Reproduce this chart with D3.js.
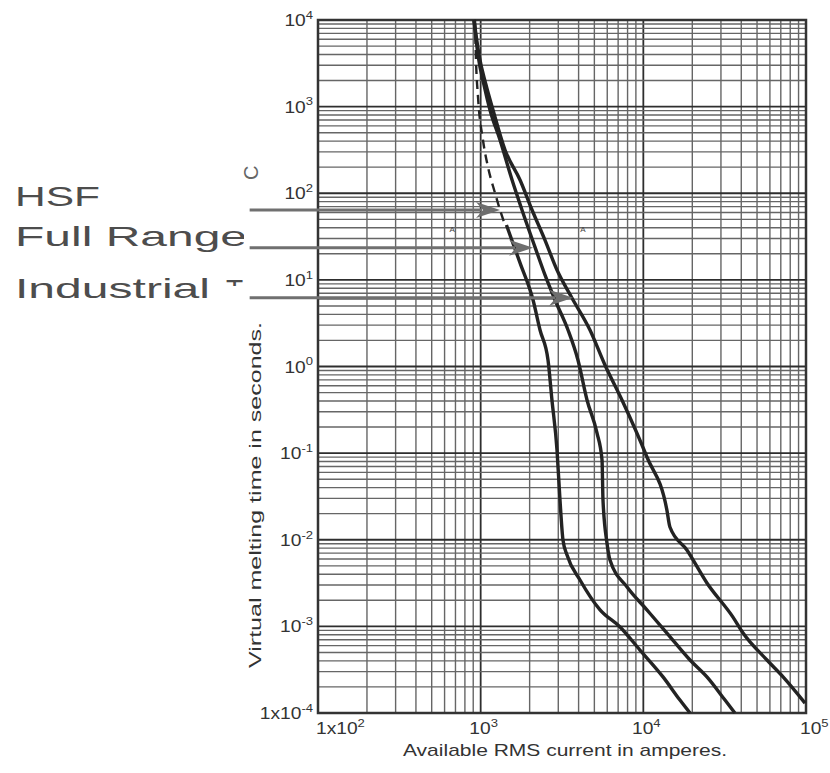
<!DOCTYPE html>
<html>
<head>
<meta charset="utf-8">
<script src="https://cdn.jsdelivr.net/npm/d3@7"></script>
<style>
  body { margin: 0; background: #fff; }
  svg text { font-family: "Liberation Sans", Arial, Helvetica, sans-serif; }
</style>
</head>
<body>
<div id="main"></div>
<script>
// melting curves, [current in A, time in s]
const hsfDashed = [[923, 10000], [936, 3451], [963, 1291], [1033, 412], [1109, 201], [1225, 100.7], [1315, 64.1], [1412, 43]]
const hsfSolid = [[1440, 43], [1746, 15.7], [2099, 5.86], [2317, 2.64], [2594, 1.19], [2743, 0.41], [2946, 0.109],
  [3073, 0.0288], [3206, 0.00993], [3395, 0.00667], [4081, 0.00343], [5418, 0.00155], [7190, 0.000984],
  [9530, 0.000533], [13210, 0.000261], [16790, 0.000141], [19360, 0.0001]]
const fullRange = [[910, 10000], [963, 3945], [1048, 1778], [1141, 914], [1315, 412], [1560, 142], [1795, 64.1],
  [2158, 23.9], [2485, 11.4], [2864, 5.86], [3443, 2.64], [3963, 1.19], [4506, 0.41], [5188, 0.171],
  [5572, 0.0834], [5649, 0.0288], [5977, 0.00917], [6237, 0.00583], [7943, 0.00285], [10520, 0.00155],
  [13960, 0.000838], [19360, 0.000409], [24600, 0.000261], [31770, 0.000141], [36560, 0.0001]]
const industrial = [[910, 10000], [977, 3945], [1079, 1778], [1191, 914], [1412, 316], [1746, 142], [2070, 64.1],
  [2485, 28.8], [2946, 13.0], [3641, 6.18], [4699, 2.64], [5808, 1.04], [7390, 0.41], [10520, 0.0902],
  [13960, 0.022], [14570, 0.01403], [18530, 0.00762], [24600, 0.00317], [35560, 0.00128], [41020, 0.000838],
  [57540, 0.000409], [72270, 0.000261], [98620, 0.00013]]

// pointer labels on the left
const arrowLabels = ["HSF", "Full Range", "Industrial"]
const arrowTimes = [64, 23.5, 6.2]
const arrowTips = [1315, 2100, 3700]
const arrowStart = 38

// tick labels: base + exponent
const xTickValues = [1e2, 1e3, 1e4, 1e5]
const xTickBase = ["1x10", "10", "10", "10"]
const xTickExp = ["2", "3", "4", "5"]
const yTickValues = [1e4, 1e3, 1e2, 1e1, 1e0, 1e-1, 1e-2, 1e-3, 1e-4]
const yTickBase = ["10", "10", "10", "10", "10", "10", "10", "10", "1x10"]
const yTickExp = ["4", "3", "2", "1", "0", "-1", "-2", "-3", "-4"]

const markTimes = [35.7, 35.7]
const markCurrents = [667, 4256]

const W = 830, H = 773
const m = {left: 318, right: 806, top: 20, bottom: 713}

const svg = d3.select('div#main').append('svg')
  .attr('width', W)
  .attr('height', H)

const x = d3.scaleLog().domain([1e2, 1e5]).range([m.left, m.right])
const y = d3.scaleLog().domain([1e-4, 1e4]).range([m.bottom, m.top])

const isDecade = (v) => Math.abs(Math.log10(v) - Math.round(Math.log10(v))) < 1e-9

// grid
const grid = svg.append('g')
grid.selectAll('line.vx')
  .data(x.ticks())
  .enter().append('line')
    .attr('x1', d => x(d)).attr('x2', d => x(d))
    .attr('y1', m.top).attr('y2', m.bottom)
    .attr('stroke', d => isDecade(d) ? '#2e2e2e' : '#666')
    .attr('stroke-width', d => isDecade(d) ? 1.8 : 1.4)

grid.selectAll('line.hy')
  .data(y.ticks())
  .enter().append('line')
    .attr('y1', d => y(d)).attr('y2', d => y(d))
    .attr('x1', m.left).attr('x2', m.right)
    .attr('stroke', d => isDecade(d) ? '#2e2e2e' : '#666')
    .attr('stroke-width', d => isDecade(d) ? 1.8 : 1.4)

svg.append('rect')
  .attr('x', m.left).attr('y', m.top)
  .attr('width', m.right - m.left).attr('height', m.bottom - m.top)
  .attr('fill', 'none').attr('stroke', '#333').attr('stroke-width', 2.5)

// stretched text helper (the scan is wider than tall)
function label(g, px, py, base, exp, size, sx, anchor) {
  let t = g.append('g').attr('transform', `translate(${px},${py}) scale(${sx},1)`)
    .append('text')
      .attr('text-anchor', anchor)
      .attr('font-size', size)
      .attr('fill', '#333')
  t.append('tspan').text(base)
  t.append('tspan').attr('font-size', size * 0.68).attr('dy', -size * 0.45).text(exp)
}

const axes = svg.append('g')
yTickValues.forEach((v, i) => label(axes, m.left - 5, y(v) + 6, yTickBase[i], yTickExp[i], 16, 1.2, 'end'))
xTickValues.forEach((v, i) => {
  let last = i === xTickValues.length - 1
  let anchor = (i === 0 || last) ? 'start' : 'middle'
  let dx = i === 0 ? -2 : (last ? -6 : 3)
  label(axes, x(v) + dx, m.bottom + 21, xTickBase[i], xTickExp[i], 16, 1.2, anchor)
})

svg.append('text')
  .attr('x', 403).attr('y', 756)
  .attr('font-size', 17).attr('fill', '#333')
  .attr('textLength', 324).attr('lengthAdjust', 'spacingAndGlyphs')
  .text('Available RMS current in amperes.')

svg.append('text')
  .attr('transform', 'translate(261,668) rotate(-90)')
  .attr('font-size', 17).attr('fill', '#333')
  .attr('textLength', 346).attr('lengthAdjust', 'spacingAndGlyphs')
  .text('Virtual melting time in seconds.')

// curves
const line = d3.line()
  .x(d => x(d[0]))
  .y(d => y(d[1]))
  .curve(d3.curveMonotoneX)

const curves = svg.append('g').attr('fill', 'none').attr('stroke', '#232323')
curves.append('path').attr('d', line(hsfDashed)).attr('stroke-width', 2.4).attr('stroke-dasharray', '9,6')
;[hsfSolid, fullRange, industrial].forEach(c => {
  curves.append('path').attr('d', line(c)).attr('stroke-width', 3.4).attr('stroke-linejoin', 'round')
})

markCurrents.forEach((c, i) => {
  svg.append('text')
    .attr('x', x(c)).attr('y', y(markTimes[i]))
    .attr('font-size', 8).attr('fill', '#444')
    .attr('text-anchor', 'middle')
    .text('A')
})

// arrows from labels to curves
const arrows = svg.append('g')
arrowLabels.forEach((lab, i) => {
  let ay = y(arrowTimes[i]), tip = x(arrowTips[i])
  arrows.append('line')
    .attr('x1', x(arrowStart)).attr('x2', tip - 18)
    .attr('y1', ay).attr('y2', ay)
    .attr('stroke', '#707070').attr('stroke-width', 3)
  arrows.append('path')
    .attr('d', `M${tip},${ay} L${tip - 24},${ay - 8} L${tip - 17},${ay} L${tip - 24},${ay + 8} Z`)
    .attr('fill', '#6e6e6e')
})

// big pointer labels, clipped on the right like the source
svg.append('clipPath').attr('id', 'labclip')
  .append('rect').attr('x', 0).attr('y', 0).attr('width', 244).attr('height', H)
svg.append('clipPath').attr('id', 'tclip')
  .append('rect').attr('x', 0).attr('y', 0).attr('width', 244).attr('height', 286)

const labelLengths = [85, 232, 195]
const big = svg.append('g').attr('clip-path', 'url(#labclip)')
arrowLabels.forEach((lab, i) => {
  big.append('text')
    .attr('x', 15).attr('y', y(arrowTimes[i]) - 4 + i * 2)
    .attr('font-size', 28).attr('fill', '#4d4d4d')
    .attr('textLength', labelLengths[i]).attr('lengthAdjust', 'spacingAndGlyphs')
    .text(lab)
})
svg.append('g').attr('clip-path', 'url(#tclip)')
  .append('text')
    .attr('x', 226).attr('y', y(arrowTimes[2]) + 1)
    .attr('font-size', 28).attr('fill', '#4d4d4d')
    .text('T')

svg.append('text')
  .attr('transform', 'translate(258,180) rotate(-90)')
  .attr('font-size', 20).attr('fill', '#666')
  .text('C')
</script>
</body>
</html>
